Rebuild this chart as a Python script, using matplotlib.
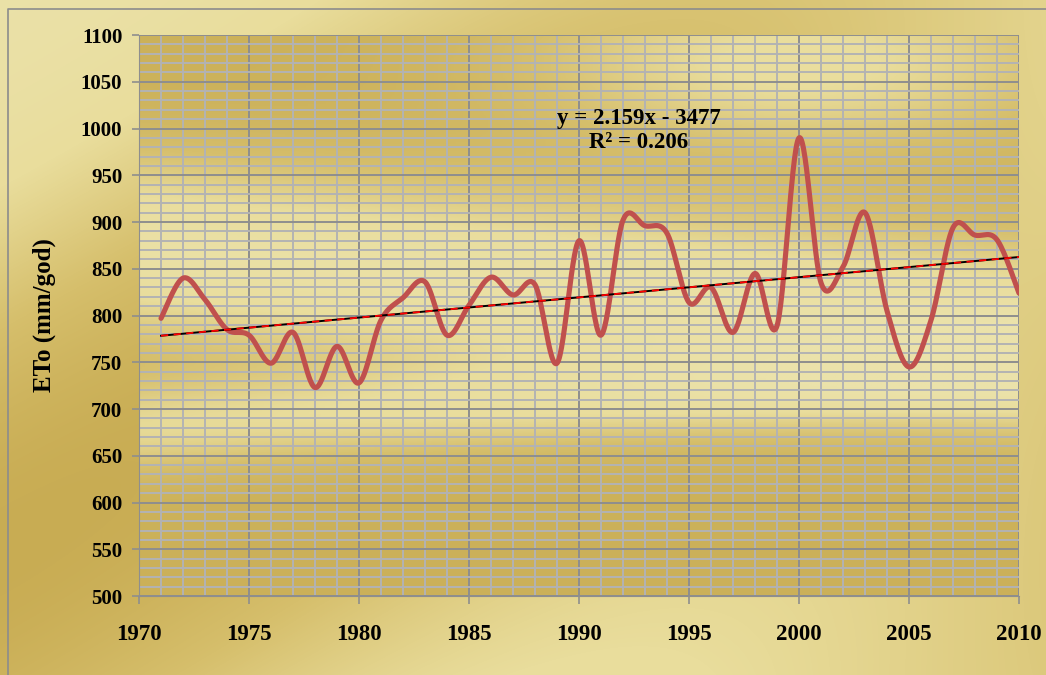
import numpy as np
import matplotlib
matplotlib.use("Agg")
import matplotlib.pyplot as plt
from matplotlib.colors import LinearSegmentedColormap

# yearly ETo values (mm/god)
years = list(range(1971, 2011))
eto = [797, 840, 817, 785, 779, 749, 782, 723, 767, 728,
       795, 819, 836, 779, 811, 841, 822, 833, 749, 880,
       779, 902, 896, 888, 814, 830, 782, 845, 789, 990,
       835, 852, 910, 805, 745, 795, 894, 886, 881, 824]

# linear trend as given on the chart
slope = 2.159
intercept = -3477
trend_text = "y = 2.159x - 3477\nR² = 0.206"

x_ticks = list(range(1970, 2011, 5))
y_ticks = list(range(500, 1101, 50))


def smooth(xs, ys, n=30):
    # Excel style smoothed line: bezier segments with catmull-rom controls
    xs = np.asarray(xs, float)
    ys = np.asarray(ys, float)
    px = np.concatenate([[xs[0]], xs, [xs[-1]]])
    py = np.concatenate([[ys[0]], ys, [ys[-1]]])
    t = np.linspace(0, 1, n)
    ox, oy = [], []
    for i in range(1, len(px) - 2):
        p1 = np.array([px[i], py[i]])
        p2 = np.array([px[i + 1], py[i + 1]])
        c1 = p1 + (p2 - np.array([px[i - 1], py[i - 1]])) / 6
        c2 = p2 - (np.array([px[i + 2], py[i + 2]]) - p1) / 6
        b = ((1 - t) ** 3)[:, None] * p1 + (3 * (1 - t) ** 2 * t)[:, None] * c1 \
            + (3 * (1 - t) * t ** 2)[:, None] * c2 + (t ** 3)[:, None] * p2
        ox.extend(b[:, 0])
        oy.extend(b[:, 1])
    return ox, oy


plt.rcParams['font.family'] = ['Liberation Serif', 'DejaVu Serif']
plt.rcParams['font.weight'] = 'bold'

fig = plt.figure(figsize=(10.46, 6.75), dpi=100)

gold = LinearSegmentedColormap.from_list(
    "gold", ["#c6a94f", "#d6bf6c", "#e9dd9c", "#ebe2aa"])

# figure background: diagonal gold gradient
bg = fig.add_axes([0, 0, 1, 1], zorder=-2)
h, w = 675, 1046
yy, xx = np.mgrid[0:h, 0:w] / 675.0
d = xx * 0.55 + yy
bgval = 0.5 + 0.45 * np.cos(d * 3.6 + 0.2) * np.cos(xx * 1.1)
bgval = np.clip(bgval, 0, 1)
bg.imshow(bgval, cmap=gold, aspect='auto', extent=[0, 1, 0, 1], vmin=0, vmax=1)
bg.plot([0.008, 0.008, 1.0], [0.0, 0.987, 0.987], color="#8c8c8c", lw=1.2)
bg.set_xlim(0, 1)
bg.set_ylim(0, 1)
bg.axis("off")

ax = fig.add_axes([0.1329, 0.117, 0.8413, 0.8311])

# plot area background: mostly gold with a lighter band low in the middle
ph, pw = 300, 500
py_, px_ = np.mgrid[0:ph, 0:pw]
py_ = py_ / ph
px_ = px_ / pw
band = np.exp(-((py_ - 0.62 + 0.15 * px_) / 0.16) ** 2)
band2 = np.exp(-((py_ - 0.3 - 0.1 * px_) / 0.08) ** 2) * 0.5
corner = np.exp(-(((px_ - 0.75) / 0.3) ** 2 + ((py_ - 0.95) / 0.15) ** 2)) * 0.6
pval = np.clip(0.12 + 0.75 * band + band2 + corner, 0, 1)
ax.imshow(pval, cmap=gold, aspect='auto', extent=[1970, 2010, 1100, 500],
          zorder=0, vmin=0, vmax=1)

ax.set_xlim(1970, 2010)
ax.set_ylim(500, 1100)

# grid lines
for yr in range(1970, 2011):
    ax.axvline(yr, color="#8e8e8e" if yr % 5 == 0 else "#b3b3b3",
               lw=1.4, zorder=1)
for v in range(500, 1101, 10):
    ax.axhline(v, color="#8e8e8e" if v % 50 == 0 else "#b3b3b3",
               lw=1.4, zorder=1)

# data line
sx, sy = smooth(years, eto)
ax.plot(sx, sy, color="#c0504d", lw=3.7, zorder=3, solid_capstyle='round')

# trend line
tx = np.array([years[0], years[-1]], float)
ty = slope * tx + intercept
ax.plot(tx, ty, color="black", lw=1.4, zorder=4)
ax.plot(tx, ty, color="red", lw=1.3, ls=(0, (4, 3)), zorder=5)

ax.text(1992.7, 998, trend_text, ha="center", va="center", fontsize=16.5,
        fontweight="bold", linespacing=1.2, zorder=6)

ax.set_xticks(x_ticks)
ax.set_yticks(y_ticks)
ax.tick_params(axis="x", length=6, width=1.2, color="#8e8e8e", pad=14,
               labelsize=16.5)
ax.tick_params(axis="y", length=5, width=1.2, color="#8e8e8e", pad=7,
               labelsize=15)
for s in ax.spines.values():
    s.set_visible(False)
ax.spines["left"].set_visible(True)
ax.spines["left"].set_color("#8e8e8e")
ax.spines["bottom"].set_visible(True)
ax.spines["bottom"].set_color("#8e8e8e")

ax.set_ylabel("ETo (mm/god)", fontsize=18, fontweight="bold", labelpad=18)

fig.savefig("out.png", dpi=100)
